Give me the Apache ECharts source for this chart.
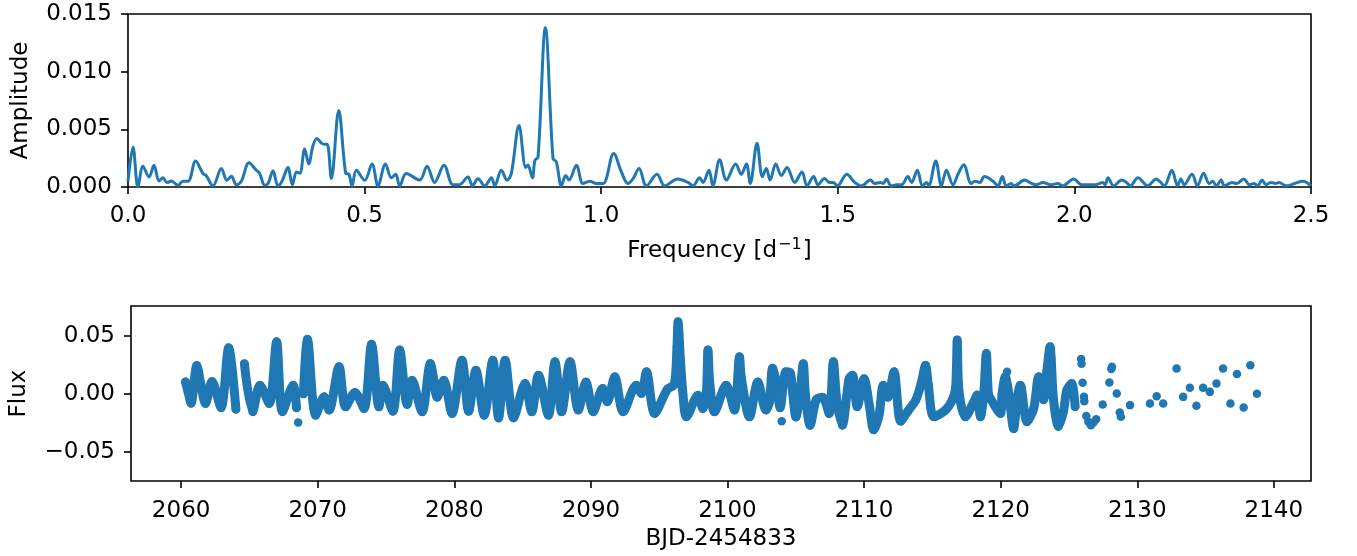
<!DOCTYPE html>
<html><head><meta charset="utf-8">
<script src="https://cdn.jsdelivr.net/npm/echarts@6/dist/echarts.min.js"></script>
<style>html,body{margin:0;padding:0;background:#fff}#c{width:1357px;height:556px}</style>
</head><body><div id="c"></div>
<script>
// ---- Periodogram (top panel) ----
const freq = [0.000,0.0106,0.021,0.0317,0.0444,0.055,0.0655,0.074,0.0824,0.0917,0.1057,0.116,0.127,0.143,0.1585,0.165,0.1796,0.1973,0.209,0.2185,0.229,0.2396,0.2557,0.2713,0.278,0.289,0.296,0.3064,0.317,0.3254,0.338,0.3474,0.356,0.363,0.3734,0.3819,0.391,0.3994,0.4087,0.4157,0.421,0.4298,0.4453,0.46,0.467,0.4734,0.4826,0.5002,0.5157,0.5283,0.544,0.5566,0.5657,0.5742,0.588,0.6164,0.6319,0.648,0.6678,0.6868,0.70,0.7185,0.7278,0.7397,0.7538,0.768,0.775,0.789,0.801,0.810,0.8263,0.8405,0.845,0.8546,0.86,0.8665,0.882,0.8982,0.905,0.916,0.925,0.932,0.9476,0.9615,0.9757,0.99,1.004,1.0264,1.0427,1.0566,1.067,1.08,1.0955,1.118,1.134,1.162,1.1834,1.194,1.208,1.215,1.2278,1.236,1.2504,1.2646,1.2842,1.296,1.3068,1.315,1.3293,1.3406,1.349,1.357,1.3688,1.3808,1.3927,1.409,1.4243,1.435,1.449,1.458,1.472,1.482,1.49,1.499,1.519,1.5357,1.55,1.569,1.578,1.59,1.596,1.6027,1.613,1.625,1.635,1.648,1.656,1.668,1.679,1.688,1.692,1.707,1.719,1.7295,1.7435,1.754,1.766,1.782,1.79,1.80,1.81,1.828,1.8385,1.8478,1.856,1.866,1.873,1.895,1.91,1.92,1.9337,1.95,1.965,1.975,1.9986,2.015,2.03,2.045,2.06,2.065,2.071,2.083,2.1,2.11,2.118,2.1344,2.155,2.173,2.18,2.19,2.206,2.218,2.225,2.232,2.2485,2.26,2.273,2.285,2.292,2.3,2.31,2.317,2.333,2.343,2.358,2.37,2.38,2.387,2.3965,2.405,2.415,2.425,2.432,2.448,2.465,2.483,2.5];
const amp = [0.0005,0.00346,0.0000,0.0018,0.00087,0.00188,0.00052,0.0008,0.00038,0.00052,0.00015,0.0005,0.0005,0.00225,0.00116,0.001,0.0001,0.0016,0.00058,0.00093,0.0002,0.0005,0.0021,0.00145,0.0012,0.00015,0.0003,0.0014,0.0001,0.0005,0.00168,0.0002,0.0013,0.0012,0.0033,0.002,0.0036,0.0042,0.0038,0.0037,0.0037,0.00073,0.00664,0.0012,0.0011,0.0001,0.00145,0.00058,0.002,0.0001,0.002,0.0008,0.0011,0.0001,0.00116,0.0006,0.0018,0.0004,0.00188,0.0002,0.0002,0.00087,0.0001,0.00072,0.0001,0.0008,0.0001,0.00145,0.0006,0.00116,0.00534,0.0017,0.0019,0.0008,0.0023,0.0026,0.0138,0.00246,0.0022,0.0001,0.001,0.0006,0.00188,0.0003,0.0005,0.0003,0.0003,0.0029,0.0013,0.0003,0.0007,0.0016,0.0001,0.0011,0.0001,0.0007,0.0004,0.0001,0.0008,0.0004,0.00145,0.0001,0.00237,0.0006,0.002,0.0011,0.002,0.0003,0.0038,0.0009,0.0016,0.0006,0.002,0.001,0.0017,0.0004,0.0013,0.0001,0.0009,0.0002,0.00073,0.0004,0.0004,0.0001,0.0011,0.0004,0.0001,0.0006,0.0003,0.0004,0.0003,0.0007,0.0001,0.0002,0.0002,0.0009,0.0004,0.00145,0.0001,0.0004,0.0001,0.00225,0.0001,0.00145,0.0002,0.0011,0.00194,0.0003,0.0005,0.0004,0.0009,0.0005,0.0001,0.0009,0.0001,0.0003,0.0001,0.0006,0.0003,0.0002,0.0004,0.0002,0.0003,0.0001,0.0007,0.0002,0.0002,0.0002,0.0004,0.0002,0.0008,0.0001,0.0006,0.0004,0.0001,0.0008,0.0001,0.0007,0.0005,0.0001,0.00145,0.0001,0.0007,0.0002,0.0011,0.0001,0.0012,0.0003,0.0005,0.0001,0.0006,0.0001,0.0004,0.0003,0.0007,0.0002,0.0003,0.0001,0.0006,0.0002,0.0004,0.0003,0.0004,0.0001,0.0003,0.0005,0.0001];

// ---- Light curve (bottom panel): dense stretches (null = gap) ----
const timeDense = [2060.32,2060.5,2060.73,2061.15,2061.45,2061.78,2062.26,2062.92,2063.48,2064.01,2064.3,2064.63,2065.23,2065.77,2066.45,2066.99,2067.42,2068.2,2068.45,2068.7,2068.95,2069.25,2069.85,2070.47,2070.83,2071.56,2072.04,2072.73,2073.39,2073.94,2074.48,2074.77,2075.5,2076.0,2076.55,2076.91,2077.64,2078.25,2078.5,2078.74,2079.23,2079.83,2080.56,2081.05,2081.58,2082.19,2082.82,2083.24,2083.72,2084.34,2085.18,2085.67,2086.16,2086.89,2087.37,2087.86,2088.47,2089.08,2089.64,2090.17,2090.85,2091.2,2091.75,2092.36,2093.33,2093.7,2094.07,2094.67,2095.6,2096.1,2096.3,2096.38,2096.55,2096.74,2096.99,2097.84,2098.2,2098.45,2098.57,2098.7,2099.05,2099.9,2100.51,2100.88,2101.0,2101.61,2102.22,2102.82,2103.07,2103.3,2103.6,2103.85,2104.28,2104.6,2104.75,2105.01,2105.3,2105.55,2105.7,2106.05,2106.5,2106.96,2107.45,2107.75,2108.0,2108.4,2108.9,2109.15,2109.5,2110.0,2110.4,2110.7,2111.1,2111.4,2111.75,2112.19,2112.68,2113.2,2113.8,2114.2,2114.5,2114.7,2115.11,2115.96,2116.45,2116.7,2116.82,2116.95,2117.42,2118.03,2118.28,2118.52,2118.76,2118.95,2119.1,2119.25,2119.98,2120.1,2120.34,2120.6,2120.95,2121.2,2121.44,2121.93,2122.42,2122.78,2123.14,2123.39,2123.62,2123.7,2123.87,2124.23,2124.6,2124.84,2125.2,2125.45];
const fluxDense = [0.0103,0.002,-0.008,0.0245,0.008,-0.0083,0.0107,-0.012,0.0397,-0.0132,null,0.026,-0.0155,0.0075,-0.0083,0.0448,-0.0155,0.0075,-0.012,null,0.0,0.047,-0.0184,-0.0026,-0.014,0.0233,-0.0112,0.0012,-0.0126,0.0426,-0.0112,0.0075,-0.0149,0.0377,-0.0092,0.0118,-0.0155,0.0262,0.012,-0.003,0.0118,-0.0169,0.029,-0.0149,0.0204,-0.0184,0.029,-0.0207,0.029,-0.0207,0.009,-0.0155,0.0161,-0.0184,0.0276,-0.0155,0.0276,-0.014,0.0103,-0.0155,0.0046,-0.0069,0.0147,-0.0155,0.0075,0.0003,0.019,-0.0169,0.004,0.008,0.04,0.062,0.03,0.0,-0.0198,-0.0011,-0.0126,0.0,0.0377,0.01,-0.0155,0.0075,-0.014,0.0319,0.015,-0.0198,0.0103,-0.014,-0.007,0.022,0.008,-0.012,0.019,0.018,0.003,-0.02,0.0,0.026,0.0,-0.027,-0.005,-0.003,-0.017,0.0276,-0.005,-0.027,0.013,0.016,-0.011,0.013,-0.011,-0.031,-0.018,0.0075,-0.003,0.019,-0.0235,-0.015,-0.005,0.01,0.0247,0.008,-0.0198,-0.014,-0.0055,0.005,0.0463,0.002,-0.0198,-0.007,-0.001,-0.0198,0.0,0.0348,0.0,-0.004,-0.017,0.0,0.0147,0.0,-0.03,-0.005,0.0075,-0.024,-0.0126,0.0147,-0.005,0.0204,0.0405,0.03,-0.005,-0.028,-0.015,0.003,0.009,-0.011];

// ---- Light curve: isolated points ----
const timeSparse = [2068.57,2103.97,2120.47,2125.89,2125.92,2126.0,2126.1,2126.12,2126.27,2126.42,2126.6,2126.79,2126.99,2127.47,2127.96,2128.1,2128.15,2128.5,2128.72,2128.8,2129.47,2130.93,2131.42,2131.9,2132.88,2133.36,2133.85,2134.33,2134.82,2135.31,2135.8,2136.28,2136.82,2137.3,2137.79,2138.28,2138.76];
const fluxSparse = [-0.0247,-0.0235,0.019,0.030,0.026,0.0095,-0.0026,-0.0063,-0.019,-0.024,-0.027,-0.0247,-0.0218,-0.0092,0.0098,0.0213,0.0233,0.0003,-0.016,-0.0198,-0.0097,-0.0083,-0.002,-0.0083,0.0219,-0.0026,0.0052,-0.0103,0.0052,0.0017,0.009,0.0219,-0.0083,0.017,-0.0117,0.0247,0.0];

// ---- Tick labels ----
const freqTicks = [0, 0.5, 1.0, 1.5, 2.0, 2.5];
const ampTicks = [0, 0.005, 0.010, 0.015];
const timeTicks = [2060, 2070, 2080, 2090, 2100, 2110, 2120, 2130, 2140];
const fluxTicks = [-0.05, 0.00, 0.05];

const C = '#1f77b4';
const FONT = 'DejaVu Sans';
const FS = 23;
const minus = s => s.replace('-', '\u2212');

const chart = echarts.init(document.getElementById('c'), null, {renderer: 'canvas'});
const axisCommon = {
  axisLine: {show: false, onZero: false},
  splitLine: {show: false},
  axisTick: {show: true, inside: false, length: 7, lineStyle: {color: '#000', width: 1.6}},
  axisLabel: {color: '#000', fontFamily: FONT, fontSize: FS, margin: 16},
  nameTextStyle: {color: '#000', fontFamily: FONT, fontSize: FS},
  nameLocation: 'middle'
};

chart.setOption({
  animation: false,
  backgroundColor: '#fff',
  grid: [
    {left: 128, top: 14, width: 1183, height: 173, show: true, borderColor: '#000', borderWidth: 1.6, backgroundColor: 'transparent'},
    {left: 128, top: 306, width: 1183, height: 175, show: true, borderColor: '#000', borderWidth: 1.6, backgroundColor: 'transparent'}
  ],
  xAxis: [
    Object.assign({}, axisCommon, {
      gridIndex: 0, type: 'value', min: 0, max: 2.5,
      name: '{n|Frequency [d}{s|\u22121}{n|]}', nameGap: 50,
      nameTextStyle: {color: '#000', fontFamily: FONT, fontSize: FS,
        rich: {
          n: {fontFamily: FONT, fontSize: FS, color: '#000', verticalAlign: 'bottom'},
          s: {fontFamily: FONT, fontSize: 16, color: '#000', verticalAlign: 'bottom', padding: [0, 1, 10, 1]}
        }},
      axisTick: Object.assign({}, axisCommon.axisTick, {customValues: freqTicks}),
      axisLabel: Object.assign({}, axisCommon.axisLabel, {margin: 18, customValues: freqTicks, formatter: v => v.toFixed(1)})
    }),
    Object.assign({}, axisCommon, {
      gridIndex: 1, type: 'value', min: 2056.33, max: 2142.72,
      name: 'BJD-2454833', nameGap: 47,
      axisTick: Object.assign({}, axisCommon.axisTick, {customValues: timeTicks}),
      axisLabel: Object.assign({}, axisCommon.axisLabel, {margin: 19, customValues: timeTicks, formatter: v => String(Math.round(v))})
    })
  ],
  yAxis: [
    Object.assign({}, axisCommon, {
      gridIndex: 0, type: 'value', min: 0, max: 0.015,
      name: 'Amplitude', nameGap: 95,
      axisTick: Object.assign({}, axisCommon.axisTick, {customValues: ampTicks}),
      axisLabel: Object.assign({}, axisCommon.axisLabel, {customValues: ampTicks, formatter: v => v.toFixed(3)})
    }),
    Object.assign({}, axisCommon, {
      gridIndex: 1, type: 'value', min: -0.075, max: 0.0756,
      name: 'Flux', nameGap: 100,
      axisTick: Object.assign({}, axisCommon.axisTick, {customValues: fluxTicks}),
      axisLabel: Object.assign({}, axisCommon.axisLabel, {customValues: fluxTicks, formatter: v => minus(v.toFixed(2))})
    })
  ],
  series: [
    {
      type: 'line', xAxisIndex: 0, yAxisIndex: 0,
      data: freq.map((f, i) => [f, amp[i]]),
      showSymbol: false, smooth: 0.35, clip: true,
      lineStyle: {color: C, width: 3, join: 'round'}
    },
    {
      type: 'line', xAxisIndex: 1, yAxisIndex: 1,
      data: timeDense.map((t, i) => fluxDense[i] === null ? '-' : [t, fluxDense[i]]),
      connectNulls: false, smooth: 0.3,
      symbol: 'circle', symbolSize: 8.5, showSymbol: true,
      itemStyle: {color: C, borderWidth: 0},
      lineStyle: {color: C, width: 9, cap: 'round', join: 'round'}
    },
    {
      type: 'scatter', xAxisIndex: 1, yAxisIndex: 1,
      data: timeSparse.map((t, i) => [t, fluxSparse[i]]),
      symbol: 'circle', symbolSize: 8.5,
      itemStyle: {color: C, borderWidth: 0, opacity: 1}
    }
  ]
});
</script>
</body></html>
